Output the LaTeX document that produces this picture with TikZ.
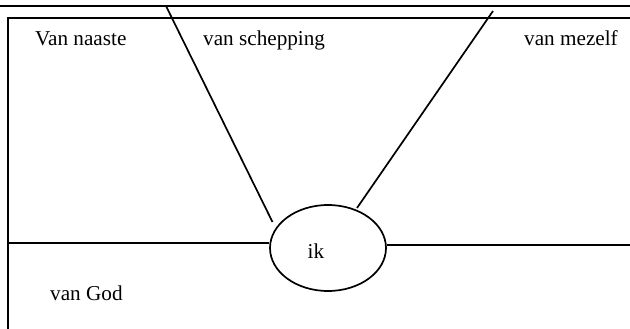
\documentclass[tikz,border=0pt]{standalone}
\usepackage{fontspec}
\setmainfont{Liberation Serif}
\usetikzlibrary{shapes.geometric}
\begin{document}
\begin{tikzpicture}[x=1pt,y=-1pt,
  ln/.style={line width=1.7pt},
  lbl/.style={anchor=base west,inner sep=0pt,font=\fontsize{21.2}{25}\selectfont}]
\useasboundingbox (0,0) rectangle (630,329);
% frame
\coordinate (t1) at (0,6);
\coordinate (t2) at (630,6);
\coordinate (f1) at (8,329);
\coordinate (f2) at (8,18);
\coordinate (f3) at (630,18);
\draw[ln] (t1) -- (t2);
\draw[ln] (f1) -- (f2) -- (f3);
% ellipse
\node[ellipse,draw,ln,minimum width=116pt,minimum height=86pt,inner sep=0pt] (ik) at (328,248) {};
\node[lbl] (ikt) at (307.5,258) {ik};
% diagonals
\coordinate (d1a) at (166,6);
\coordinate (d1b) at (272.5,222);
\coordinate (d2a) at (493,11);
\coordinate (d2b) at (357,208);
\draw[ln] (d1a) -- (d1b);
\draw[ln] (d2a) -- (d2b);
% horizontals
\coordinate (h1a) at (8,243);
\coordinate (h1b) at (ik.west |- 0,243);
\coordinate (h2a) at (ik.east |- 0,245);
\coordinate (h2b) at (630,245);
\draw[ln] (h1a) -- (h1b);
\draw[ln] (h2a) -- (h2b);
% labels
\node[lbl] (n1) at (35,46) {Van naaste};
\node[lbl] (n2) at (203,46) {van schepping};
\node[lbl] (n3) at (524,46) {van mezelf};
\node[lbl] (n4) at (50,300) {van God};
\end{tikzpicture}
\end{document}
